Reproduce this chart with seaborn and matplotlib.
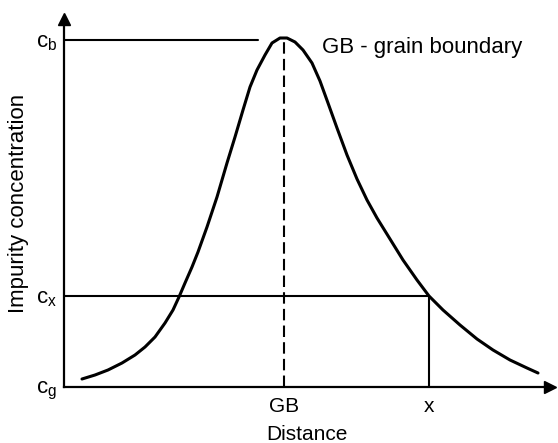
import numpy as np
import pandas as pd
import matplotlib
matplotlib.use("Agg")
import matplotlib.pyplot as plt
import seaborn as sns

# Schematic impurity profile across a grain boundary (arbitrary units)
distance = [18, 31, 44, 58, 71, 81, 91, 101, 109, 115, 121, 128, 134, 143,
            153, 163, 171, 179, 186, 193, 201, 208, 216, 223, 231, 239, 248,
            256, 264, 273, 283, 293, 303, 313, 326, 339, 353, 365, 379, 396,
            413, 429, 446, 463, 474]
concentration = [8, 12, 17, 24, 32, 40, 50, 64, 77, 90, 104, 120, 135, 160,
                 190, 224, 250, 277, 300, 317, 332, 344, 349, 349, 345, 337, 324,
                 306, 284, 259, 232, 208, 187, 169, 148, 127, 107, 91, 77, 62,
                 48, 37, 27, 19, 14]

gb_pos = 220      # grain boundary position
x_pos = 365       # position x
c_g = 0
c_x = 91
c_b = 347

ytick_vals = [c_g, c_x, c_b]
ytick_labels = [r"$\mathrm{c_g}$", r"$\mathrm{c_x}$", r"$\mathrm{c_b}$"]
xtick_vals = [gb_pos, x_pos]
xtick_labels = ["GB", "x"]

sns.set_theme(style="white")
plt.rcParams['font.family'] = ['Liberation Sans', 'DejaVu Sans']
plt.rcParams['mathtext.fontset'] = 'custom'
plt.rcParams['mathtext.rm'] = 'Liberation Sans'
plt.rcParams['text.color'] = 'black'
plt.rcParams['axes.labelcolor'] = 'black'
plt.rcParams['xtick.color'] = 'black'
plt.rcParams['ytick.color'] = 'black'

df = pd.DataFrame({"Distance": distance, "Impurity concentration": concentration})

fig = plt.figure(figsize=(5.58, 4.43), dpi=100)
ax = fig.add_axes([64 / 558, 56 / 443, 486 / 558, 368 / 443])

sns.lineplot(data=df, x="Distance", y="Impurity concentration", color="black",
             linewidth=2.2, sort=False, ax=ax)

# guide lines
ax.plot([0, 194], [c_b, c_b], color="black", lw=1.5)
ax.plot([0, x_pos], [c_x, c_x], color="black", lw=1.5)
ax.plot([x_pos, x_pos], [0, c_x], color="black", lw=1.5)
ax.plot([gb_pos, gb_pos], [0, max(concentration)], color="black", lw=1.5,
        dashes=(5.5, 2.5))

ax.set_xlim(0, 486)
ax.set_ylim(0, 368)

for side in ["top", "right"]:
    ax.spines[side].set_visible(False)
for side in ["left", "bottom"]:
    ax.spines[side].set_color("black")
    ax.spines[side].set_linewidth(1.6)

# arrow heads
ax.plot(1, 0, ">", color="black", ms=9, transform=ax.transAxes, clip_on=False)
ax.plot(0, 1, "^", color="black", ms=9, transform=ax.transAxes, clip_on=False)

ax.set_yticks(ytick_vals)
ax.set_yticklabels(ytick_labels, fontsize=16)
ax.set_xticks(xtick_vals)
ax.set_xticklabels(xtick_labels, fontsize=15)
ax.tick_params(axis="both", length=0)
ax.tick_params(axis="y", pad=5)
ax.tick_params(axis="x", pad=7)

ax.set_xlabel("Distance", fontsize=15, labelpad=7)
ax.set_ylabel("Impurity concentration", fontsize=16, labelpad=5)

ax.text(258, 339, "GB - grain boundary", fontsize=16, ha="left", va="center")

fig.savefig("out.png", dpi=100)
